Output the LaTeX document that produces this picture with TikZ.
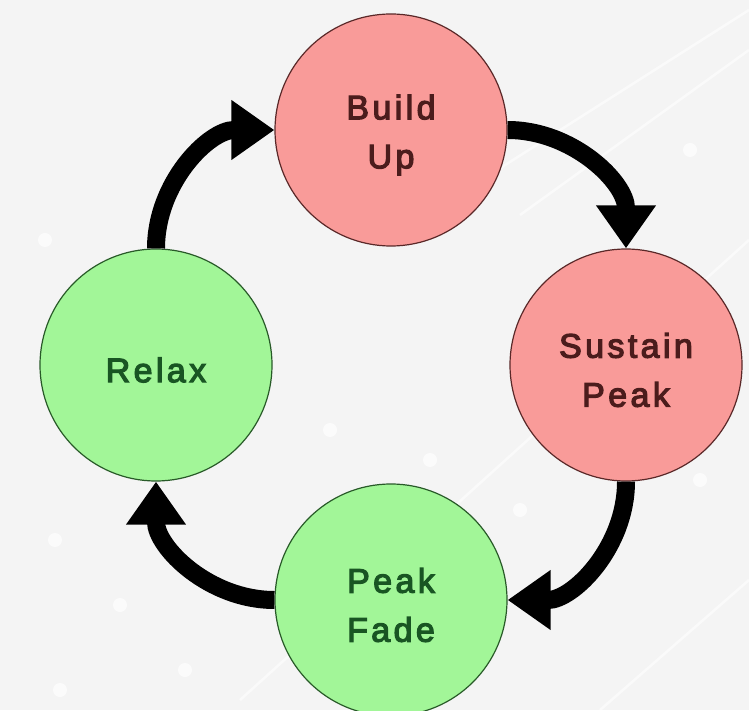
\documentclass[tikz,border=0pt]{standalone}
\usepackage{fontspec}
\setmainfont{Liberation Sans}
\newfontfamily\lblfont[LetterSpace=10,FakeBold=3.5]{Liberation Sans}
\usetikzlibrary{arrows.meta}

\definecolor{bgcol}{RGB}{244,244,244}
\definecolor{pinkfill}{RGB}{249,155,153}
\definecolor{pinkline}{RGB}{90,40,40}
\definecolor{pinktext}{RGB}{75,28,28}
\definecolor{greenfill}{RGB}{162,246,152}
\definecolor{greenline}{RGB}{40,90,40}
\definecolor{greentext}{RGB}{25,85,35}

\tikzset{
  phase/.style={circle, minimum size=232pt, inner sep=0pt, line width=1.2pt},
  caption/.style={font=\lblfont\fontsize{34}{49}\selectfont,
    align=center, inner sep=0pt, yshift=-5pt},
  hot/.style={phase, fill=pinkfill, draw=pinkline},
  cool/.style={phase, fill=greenfill, draw=greenline},
  hottext/.style={caption, text=pinktext},
  cooltext/.style={caption, text=greentext},
  flow/.style={line width=18pt, black,
    -{Triangle[length=43pt,width=57pt]}},
  streak/.style={white, line width=2.5pt, opacity=0.6},
  speck/.style={white, opacity=0.7}
}

\begin{document}
\begin{tikzpicture}[x=1pt,y=1pt]
  \useasboundingbox (0,0) rectangle (749,710);
  \clip (0,0) rectangle (749,710);
  \fill[bgcol] (0,0) rectangle (749,710);

  % faint background streaks and specks
  \draw[streak] (395,475) -- (749,700);
  \draw[streak] (520,495) -- (749,660);
  \draw[streak] (240,10) -- (749,470);
  \draw[streak] (600,0) -- (749,130);
  \foreach \p in {(55,170),(120,105),(185,40),(60,20),(330,280),(430,250),(520,200),(700,230),(690,560),(45,470),(130,300)}
    \fill[speck] \p circle (7pt);

  % the four phases
  \node[hot,  label={[hottext]center:{Build\\Up}}]      (bu) at (391,580) {};
  \node[hot,  label={[hottext]center:{Sustain\\Peak}}]  (sp) at (626,345) {};
  \node[cool, label={[cooltext]center:{Peak\\Fade}}]    (pf) at (391,110) {};
  \node[cool, label={[cooltext]center:{Relax}}]         (rx) at (156,345) {};

  % cycle arrows
  \draw[flow] (bu.east)  to[out=0,in=90]    (sp.north);
  \draw[flow] (sp.south) to[out=-90,in=0]   (pf.east);
  \draw[flow] (pf.west)  to[out=180,in=-90] (rx.south);
  \draw[flow] (rx.north) to[out=90,in=180]  (bu.west);
\end{tikzpicture}
\end{document}
